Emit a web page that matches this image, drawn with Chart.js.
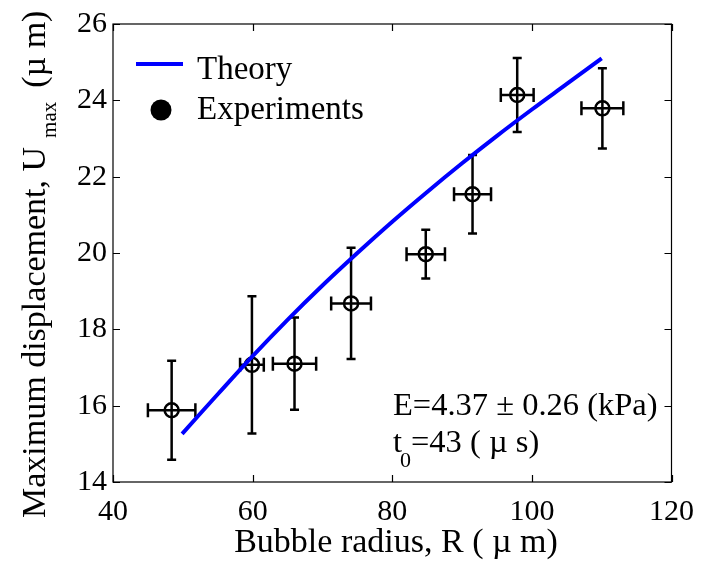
<!DOCTYPE html>
<html>
<head>
<meta charset="utf-8">
<script src="https://cdn.jsdelivr.net/npm/chart.js@4.4.1/dist/chart.umd.min.js"></script>
<style>
  html, body { margin: 0; padding: 0; background: #ffffff; }
  #c { display: block; }
</style>
</head>
<body>
<canvas id="c" width="706" height="565"></canvas>
<script>
// ---- data ----
const radius          = [48.4, 59.9, 66.0, 74.1, 84.8, 91.5, 97.9, 110.1];
const radiusErr       = [3.4, 1.7, 3.1, 2.85, 2.75, 2.65, 2.35, 3.0];
const displacement    = [15.88, 17.07, 17.10, 18.68, 19.97, 21.54, 24.14, 23.79];
const displacementErr = [1.3, 1.8, 1.21, 1.46, 0.64, 1.03, 0.97, 1.05];

const theoryR = [49.9, 55, 60, 65, 70, 75, 80, 85, 90, 95, 100, 105, 110];
const theoryU = [15.26, 16.3, 17.3, 18.25, 19.15, 20.0, 20.82, 21.6, 22.35, 23.07, 23.76, 24.43, 25.1];

const xTicks = [40, 60, 80, 100, 120];
const yTicks = [14, 16, 18, 20, 22, 24, 26];

const seriesNames = ['Theory', 'Experiments'];
const xTitle = 'Bubble radius, R ( \u00B5 m)';
const yTitleMain = 'Maximum displacement, U';
const yTitleSub = 'max';
const yTitleEnd = '(\u00B5 m)';
const noteLine1 = 'E=4.37 \u00B1 0.26 (kPa)';
const noteLine2a = 't';
const noteLine2sub = '0';
const noteLine2b = '=43 ( \u00B5 s)';

const FONT = '"Liberation Serif"';
const BLUE = '#0000ff';

const decor = {
  id: 'decor',
  beforeDatasetsDraw(chart) {
    const ctx = chart.ctx, xs = chart.scales.x, ys = chart.scales.y;
    ctx.save();
    ctx.strokeStyle = '#000';
    ctx.lineWidth = 2.5;
    ctx.lineCap = 'butt';
    for (let i = 0; i < radius.length; i++) {
      const cx = xs.getPixelForValue(radius[i]);
      const cy = ys.getPixelForValue(displacement[i]);
      const x0 = xs.getPixelForValue(radius[i] - radiusErr[i]);
      const x1 = xs.getPixelForValue(radius[i] + radiusErr[i]);
      const y0 = ys.getPixelForValue(displacement[i] - displacementErr[i]);
      const y1 = ys.getPixelForValue(displacement[i] + displacementErr[i]);
      ctx.beginPath();
      ctx.moveTo(cx, y0); ctx.lineTo(cx, y1);
      ctx.moveTo(cx - 4.5, y0); ctx.lineTo(cx + 4.5, y0);
      ctx.moveTo(cx - 4.5, y1); ctx.lineTo(cx + 4.5, y1);
      ctx.moveTo(x0, cy); ctx.lineTo(x1, cy);
      ctx.moveTo(x0, cy - 7); ctx.lineTo(x0, cy + 7);
      ctx.moveTo(x1, cy - 7); ctx.lineTo(x1, cy + 7);
      ctx.stroke();
    }
    ctx.restore();
  },
  afterDraw(chart) {
    const ctx = chart.ctx, xs = chart.scales.x, ys = chart.scales.y;
    const a = chart.chartArea;
    ctx.save();
    ctx.strokeStyle = '#000';
    ctx.lineWidth = 1.2;
    ctx.strokeRect(a.left, a.top, a.right - a.left, a.bottom - a.top);
    ctx.beginPath();
    const tl = 7;
    xTicks.forEach(v => {
      const p = Math.round(xs.getPixelForValue(v)) + 0.5;
      ctx.moveTo(p, a.bottom); ctx.lineTo(p, a.bottom - tl);
      ctx.moveTo(p, a.top); ctx.lineTo(p, a.top + tl);
    });
    yTicks.forEach(v => {
      const p = Math.round(ys.getPixelForValue(v)) + 0.5;
      ctx.moveTo(a.left, p); ctx.lineTo(a.left + tl, p);
      ctx.moveTo(a.right, p); ctx.lineTo(a.right - tl, p);
    });
    ctx.stroke();

    // legend
    ctx.fillStyle = '#000';
    ctx.strokeStyle = BLUE;
    ctx.lineWidth = 4;
    ctx.beginPath();
    ctx.moveTo(a.left + 23, a.top + 40); ctx.lineTo(a.left + 70, a.top + 40);
    ctx.stroke();
    ctx.beginPath();
    ctx.arc(a.left + 48, a.top + 86, 10.5, 0, Math.PI * 2);
    ctx.fill();
    ctx.font = '33px ' + FONT;
    ctx.textBaseline = 'alphabetic';
    ctx.textAlign = 'left';
    ctx.fillText(seriesNames[0], a.left + 84, a.top + 55);
    ctx.fillText(seriesNames[1], a.left + 84, a.top + 95);

    // annotation
    ctx.font = '32.5px ' + FONT;
    ctx.fillText(noteLine1, 393, 415);
    ctx.fillText(noteLine2a, 393, 452);
    ctx.font = '22px ' + FONT;
    ctx.fillText(noteLine2sub, 400, 467);
    const ws = ctx.measureText(noteLine2sub).width;
    ctx.font = '32.5px ' + FONT;
    ctx.fillText(noteLine2b, 400 + ws, 452);

    // x title
    ctx.font = '34px ' + FONT;
    ctx.textAlign = 'center';
    ctx.fillText(xTitle, 396, 552);

    // y title with subscript
    ctx.save();
    ctx.translate(45, 518);
    ctx.rotate(-Math.PI / 2);
    ctx.textAlign = 'left';
    ctx.font = '34px ' + FONT;
    ctx.fillText(yTitleMain, 0, 0);
    let off = ctx.measureText(yTitleMain).width + 9;
    ctx.font = '21px ' + FONT;
    ctx.fillText(yTitleSub, off, 11);
    off += ctx.measureText(yTitleSub).width + 14;
    ctx.font = '34px ' + FONT;
    ctx.fillText(yTitleEnd, off, 0);
    ctx.restore();

    ctx.restore();
  }
};

new Chart(document.getElementById('c'), {
  type: 'scatter',
  data: {
    datasets: [
      {
        label: seriesNames[0],
        data: theoryR.map((r, i) => ({ x: r, y: theoryU[i] })),
        showLine: true,
        borderColor: BLUE,
        borderWidth: 4,
        pointRadius: 0,
        tension: 0.4,
        fill: false
      },
      {
        label: seriesNames[1],
        data: radius.map((r, i) => ({ x: r, y: displacement[i] })),
        pointRadius: 7,
        pointBorderWidth: 2.5,
        borderColor: '#000',
        backgroundColor: 'rgba(0,0,0,0)',
        pointStyle: 'circle'
      }
    ]
  },
  options: {
    responsive: false,
    animation: false,
    devicePixelRatio: 1,
    layout: { padding: { top: 18, right: 23, left: 0, bottom: 0 } },
    plugins: { legend: { display: false }, tooltip: { enabled: false } },
    scales: {
      x: {
        type: 'linear', min: 40, max: 120,
        afterBuildTicks: s => { s.ticks = xTicks.map(v => ({ value: v })); },
        ticks: { font: { family: FONT, size: 30 }, color: '#000', padding: 12, maxRotation: 0 },
        grid: { display: false, drawTicks: false },
        border: { display: false },
        afterFit: s => { s.height = 83; }
      },
      y: {
        type: 'linear', min: 14, max: 26,
        afterBuildTicks: s => { s.ticks = yTicks.map(v => ({ value: v })); },
        ticks: { font: { family: FONT, size: 30 }, color: '#000', padding: 6 },
        grid: { display: false, drawTicks: false },
        border: { display: false },
        afterFit: s => { s.width = 113; }
      }
    }
  },
  plugins: [decor]
});
</script>
</body>
</html>
